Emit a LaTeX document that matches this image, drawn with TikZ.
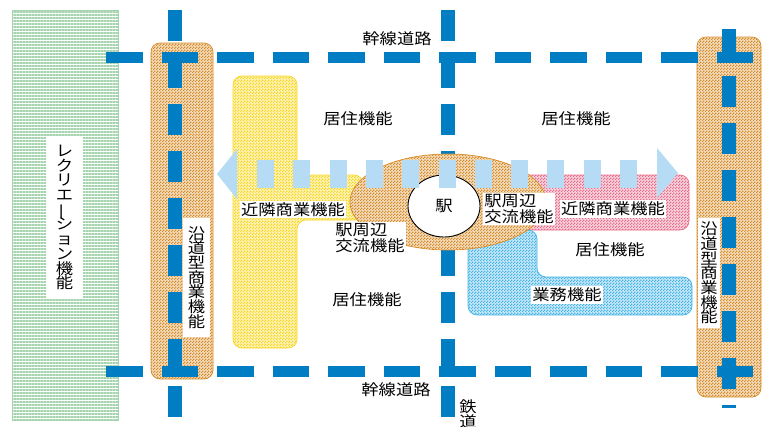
\documentclass[tikz,border=0pt]{standalone}
\usepackage{fontspec}
\newfontfamily\jp[FakeStretch=1.13]{Noto Sans CJK JP}
\usetikzlibrary{patterns,patterns.meta,shapes.geometric}

\definecolor{roadblue}{RGB}{0,125,195}
\definecolor{arrowblue}{RGB}{182,220,245}
\definecolor{roadside}{RGB}{214,140,40}
\definecolor{shopyellow}{RGB}{248,214,30}
\definecolor{shoppink}{RGB}{232,110,140}
\definecolor{officeblue}{RGB}{70,180,230}
\definecolor{recgreen}{RGB}{165,212,175}
\lineskiplimit=-20pt

\tikzdeclarepattern{
  name=checks,
  type=uncolored,
  bottom left={(0pt,0pt)},
  top right={(3pt,3pt)},
  tile size={(3pt,3pt)},
  code={
    \fill (0pt,0pt) rectangle (1.5pt,1.5pt);
    \fill (1.5pt,1.5pt) rectangle (3pt,3pt);
  }
}

\tikzset{
  zone/.style={pattern=checks, pattern color=#1, draw=#1, line width=0.7pt,
    preaction={fill=#1!30}},
  roundzone/.style={zone=#1, rounded corners=9pt},
  roadh/.style={roadblue, line width=11pt, dash pattern=on 36.5pt off 19pt},
  roadv/.style={roadblue, line width=14pt, dash pattern=on 31pt off 16pt},
  plaintext/.style={inner sep=1.5pt, font=\jp\fontsize{15.3}{16}\selectfont},
  boxtext/.style={plaintext, fill=white},
  vtext/.style={boxtext, align=center, inner sep=0pt, font=\jp\fontsize{15.3}{14.7}\selectfont},
}

\begin{document}
\begin{tikzpicture}[x=1pt, y=-1pt]
    \useasboundingbox (0,0) rectangle (771,426);

    % recreation and roadside zones
    \path[pattern={Lines[angle=0,distance=3pt,line width=1.1pt]}, pattern color=recgreen,
        draw=recgreen, line width=0.7pt] (12,10) rectangle (118,420);
    \path[roundzone=roadside] (151,43) rectangle (213,379);
    \path[roundzone=roadside] (697,37) rectangle (761,397);

    % roads and railway
    \draw[roadh] (106,57.5) -- (753,57.5);
    \draw[roadh] (106,371.5) -- (753,371.5);
    \draw[roadv] (174.5,10) -- (174.5,417);
    \draw[roadv] (448,10) -- (448,417);
    \draw[roadv] (729,29) -- (729,408);

    % shopping and office zones
    \path[roundzone=shopyellow]
        (233,76) -- (297,76) -- (297,175) -- (363,175) -- (363,220)
        -- (297,220) -- (297,348) -- (233,348) -- cycle;
    \path[roundzone=shoppink] (480,175) rectangle (689,230);
    \path[roundzone=officeblue]
        (468,230) -- (537,230) -- (537,277) -- (692,277) -- (692,315)
        -- (468,315) -- cycle;
    \path[zone=roadside] (448,202) ellipse [x radius=98pt, y radius=48pt];

    \node[ellipse, draw, line width=0.9pt, fill=white, minimum width=72pt,
        minimum height=62pt, inner sep=0pt, font=\jp\fontsize{15.3}{16}\selectfont]
        (station) at (444,206) {駅};

    % axis arrow
    \draw[arrowblue, line width=28pt, dash pattern=on 17pt off 19.3pt] (257,174) -- (637,174);
    \fill[arrowblue] (237,149) -- (217,174) -- (237,199) -- cycle;
    \fill[arrowblue] (657,148) -- (678,173) -- (657,198) -- cycle;

    % labels
    \node[plaintext] (mainroadT) at (397,39) {幹線道路};
    \node[plaintext] (mainroadB) at (396,390) {幹線道路};
    \node[vtext, fill=none] (rail) at (468,414) {鉄\\道};
    \node[plaintext] (liveA) at (358,118.5) {居住機能};
    \node[plaintext] (liveB) at (576,118.5) {居住機能};
    \node[plaintext] (liveC) at (610,250) {居住機能};
    \node[plaintext] (liveD) at (367,300) {居住機能};
    \node[boxtext] (shopL) at (293,209.5) {近隣商業機能};
    \node[boxtext] (shopR) at (613,209) {近隣商業機能};
    \node[boxtext, align=left] (exchL) at (370,238) {駅周辺\\交流機能};
    \node[boxtext, align=left] (exchR) at (519,209) {駅周辺\\交流機能};
    \node[boxtext] (office) at (567,295) {業務機能};
    \node[vtext, minimum width=27pt, minimum height=119pt] (roadsideL) at (196.5,277.5)
        {沿\\道\\型\\商\\業\\機\\能};
    \node[vtext, minimum width=22pt, minimum height=110pt] (roadsideR) at (709,273)
        {沿\\道\\型\\商\\業\\機\\能};
    \node[vtext, minimum width=37pt, minimum height=161pt] (recreation) at (64.5,217.5)
        {レ\\ク\\リ\\エ\\\rotatebox[origin=c]{90}{ー}\\シ\\ョ\\ン\\機\\能};
\end{tikzpicture}
\end{document}
